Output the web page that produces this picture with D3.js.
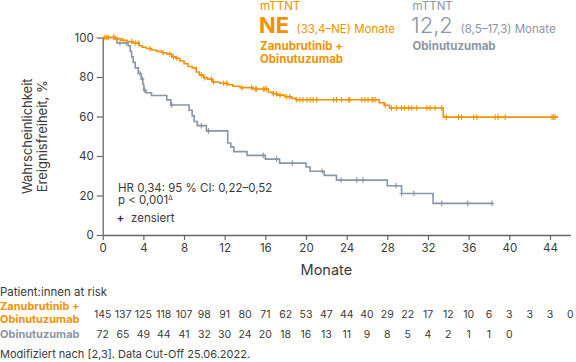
<!DOCTYPE html>
<html>
<head>
<meta charset="utf-8">
<script src="https://cdn.jsdelivr.net/npm/d3@7"></script>
<style>
  body { margin: 0; background: #fff; }
  text { font-family: "Inter", "Open Sans", sans-serif; }
</style>
</head>
<body>
<div id="chart"></div>
<script>
// Kaplan-Meier steps: time (months) and survival (%) after each drop
const zanuTimes = [0, 1.3, 1.8, 2.4, 3.0, 3.6, 3.9, 4.3, 4.8, 5.3, 5.8, 6.3, 6.8, 7.2, 7.6, 8.0, 8.4, 8.8, 9.2, 9.5, 9.9, 10.3, 10.8, 11.5, 12.3, 12.8, 13.5, 14.8, 16.3, 16.7, 17.2, 17.9, 18.6, 19.0, 27.2, 27.7, 28.2, 33.5];
const zanuSurv = [100, 99.3, 98.6, 97.9, 97.2, 95.8, 95.1, 94.4, 93.7, 93.0, 92.3, 91.6, 90.2, 89.5, 88.1, 86.7, 85.3, 84.6, 82.5, 81.1, 79.7, 78.9, 77.5, 76.8, 76.1, 75.3, 74.6, 73.9, 72.3, 71.5, 70.8, 70.0, 69.2, 68.5, 67.0, 65.7, 64.3, 59.7];
const zanuEnd = 44.8;
const zanuCensor = [0.2, 0.4, 0.55, 1.05, 1.2, 2.0, 2.85, 3.2, 3.5, 4.65, 5.95, 6.6, 6.95, 7.3, 9.7, 10.05, 10.7, 10.9, 11.9, 12.2, 13.7, 14.65, 15.0, 15.15, 15.8, 15.95, 16.1, 16.8, 17.1, 17.45, 18.1, 18.4, 19.1, 19.4, 19.7, 20.1, 20.4, 20.7, 21.05, 22.7, 23.0, 23.5, 24.2, 24.3, 25.5, 25.8, 26.1, 26.5, 26.6, 26.8, 27.8, 28.4, 28.9, 29.4, 29.7, 30.1, 30.4, 30.9, 31.9, 32.2, 32.7, 33.35, 33.8, 35.0, 35.3, 36.5, 36.8, 38.6, 38.9, 39.6, 44.2, 44.35, 44.5];

const obiTimes = [0, 1.4, 2.5, 2.7, 2.85, 3.0, 3.2, 3.5, 3.8, 3.95, 4.05, 4.25, 4.8, 6.3, 6.7, 8.5, 8.8, 9.0, 9.3, 10.2, 12.3, 12.6, 12.9, 14.2, 16.0, 17.4, 20.0, 20.4, 21.8, 23.0, 28.0, 29.4, 32.5];
const obiSurv = [100, 97.2, 95.8, 93.0, 90.2, 87.4, 84.6, 81.8, 79.0, 76.2, 73.4, 72.0, 70.6, 68.4, 65.8, 63.2, 60.3, 57.5, 55.4, 52.7, 46.6, 44.6, 42.2, 40.3, 38.4, 36.4, 34.4, 32.3, 30.2, 27.8, 24.9, 21.0, 16.0];
const obiEnd = 38.3;
const obiCensor = [1.7, 2.3, 3.67, 3.9, 4.1, 6.8, 9.7, 10.4, 15.8, 17.1, 18.65, 21.6, 23.45, 25.0, 25.6, 28.85, 29.4, 30.6, 33.35, 35.9, 38.3];

const xTicks = [0, 4, 8, 12, 16, 20, 24, 28, 32, 36, 40, 44];
const yTicks = [0, 20, 40, 60, 80, 100];

// patients at risk, every 2 months
const riskMonths = d3.range(0, 48, 2);
const zanuRisk = [145, 137, 125, 118, 107, 98, 91, 80, 71, 62, 53, 47, 44, 40, 29, 22, 17, 12, 10, 6, 3, 3, 3, 0];
const obiRisk = [72, 65, 49, 44, 41, 32, 30, 24, 20, 18, 16, 13, 11, 9, 8, 5, 4, 2, 1, 1, 0];

const ORANGE = "#f39200";
const GREY = "#8a96a3";
const DARK = "#3a3a3a";

const W = 576, H = 362;
const svg = d3.select("#chart").append("svg").attr("width", W).attr("height", H);

const x = d3.scaleLinear().domain([0, 46]).range([102.7, 570.3]);
const y = d3.scaleLinear().domain([0, 100]).range([235, 37.5]);

// axes
const xAxis = svg.append("g")
  .attr("transform", `translate(0,${y(0)})`)
  .call(d3.axisBottom(x).tickValues(xTicks).tickSize(5).tickPadding(4).tickSizeOuter(0));
const yAxis = svg.append("g")
  .attr("transform", `translate(${x(0)},0)`)
  .call(d3.axisLeft(y).tickValues(yTicks).tickSize(6).tickPadding(3).tickSizeOuter(0));
[xAxis, yAxis].forEach((g) => {
  g.select(".domain").attr("stroke", "#666").attr("stroke-width", 1.3);
  g.selectAll(".tick line").attr("stroke", "#666").attr("stroke-width", 1.2);
  g.selectAll(".tick text").attr("fill", DARK).style("font-size", "11.5px").style("font-family", "Inter");
});

svg.append("text")
  .attr("x", x(22)).attr("y", 275)
  .attr("text-anchor", "middle").attr("fill", DARK)
  .style("font-size", "14.5px")
  .text("Monate");

const yTitle = svg.append("text")
  .attr("transform", `translate(32,${y(50)}) rotate(-90)`)
  .attr("text-anchor", "middle").attr("fill", DARK)
  .style("font-size", "13px");
yTitle.append("tspan").attr("x", 0).attr("dy", 0).text("Wahrscheinlichkeit");
yTitle.append("tspan").attr("x", 0).attr("dy", 14.5).text("Ereignisfreiheit, %");

// curves
const stepLine = d3.line().x((d) => x(d[0])).y((d) => y(d[1])).curve(d3.curveStepAfter);
const survAt = (times, surv, t) => surv[d3.bisectRight(times, t) - 1];

const drawCurve = (times, surv, end, censor, color) => {
  const pts = times.map((t, i) => [t, surv[i]]);
  pts.push([end, surv[surv.length - 1]]);
  svg.append("path")
    .attr("d", stepLine(pts))
    .attr("fill", "none")
    .attr("stroke", color)
    .attr("stroke-width", 1.6);
  svg.append("g").selectAll("path")
    .data(censor)
    .enter()
    .append("path")
    .attr("d", (t) => {
      const cx = x(t), cy = y(survAt(times, surv, t));
      return `M${cx},${cy - 2.8}V${cy + 2.8}M${cx - 2},${cy}H${cx + 2}`;
    })
    .attr("stroke", color)
    .attr("stroke-width", 1.1);
};

drawCurve(obiTimes, obiSurv, obiEnd, obiCensor, GREY);
drawCurve(zanuTimes, zanuSurv, zanuEnd, zanuCensor, ORANGE);

// annotations
const note = svg.append("g").attr("fill", DARK).style("font-size", "11.5px");
note.append("text").attr("x", 118).attr("y", 191.5).text("HR 0,34: 95 % CI: 0,22–0,52");
const p = note.append("text").attr("x", 118).attr("y", 204).text("p < 0,001");
p.append("tspan").attr("dy", -4.5).style("font-size", "6.5px").text("Δ");
note.append("text").attr("x", 116.5).attr("y", 222).style("font-weight", "bold").text("+");
note.append("text").attr("x", 131).attr("y", 222).text("zensiert");

// header
const head = svg.append("g");
head.append("text").attr("x", 260).attr("y", 9.5).attr("fill", ORANGE).style("font-size", "11.5px").text("mTTNT");
head.append("text").attr("x", 259).attr("y", 32.5).attr("fill", ORANGE)
  .style("font-size", "22px").style("font-weight", "bold").text("NE");
head.append("text").attr("x", 296.5).attr("y", 32.5).attr("fill", ORANGE).style("font-size", "11.5px").text("(33,4–NE) Monate");
head.append("text").attr("x", 260).attr("y", 50).attr("fill", ORANGE)
  .style("font-size", "11.5px").style("font-weight", "bold").text("Zanubrutinib +");
head.append("text").attr("x", 260).attr("y", 63).attr("fill", ORANGE)
  .style("font-size", "11.5px").style("font-weight", "bold").text("Obinutuzumab");

head.append("text").attr("x", 412.5).attr("y", 9.5).attr("fill", GREY).style("font-size", "11.5px").text("mTTNT");
head.append("text").attr("x", 411).attr("y", 32.5).attr("fill", GREY).style("font-size", "22px").style("font-weight", 300).text("12,2");
head.append("text").attr("x", 460.5).attr("y", 32.5).attr("fill", GREY).style("font-size", "11.5px").text("(8,5–17,3) Monate");
head.append("text").attr("x", 412.5).attr("y", 50).attr("fill", GREY)
  .style("font-size", "11.5px").style("font-weight", "bold").text("Obinutuzumab");

// at-risk table
svg.append("text").attr("x", 0).attr("y", 296).attr("fill", DARK).style("font-size", "11.5px").text("Patient:innen at risk");
svg.append("text").attr("x", 0).attr("y", 310).attr("fill", ORANGE)
  .style("font-size", "11px").style("font-weight", "bold").text("Zanubrutinib +");
svg.append("text").attr("x", 0).attr("y", 322.5).attr("fill", ORANGE)
  .style("font-size", "11px").style("font-weight", "bold").text("Obinutuzumab");
svg.append("text").attr("x", 0).attr("y", 338).attr("fill", GREY)
  .style("font-size", "11px").style("font-weight", "bold").text("Obinutuzumab");

const riskRow = (values, yPos) => {
  svg.append("g").selectAll("text")
    .data(values)
    .enter()
    .append("text")
    .attr("x", (d, i) => x(riskMonths[i]))
    .attr("y", yPos)
    .attr("text-anchor", "middle")
    .attr("fill", DARK)
    .style("font-size", "10.5px")
    .text((d) => d);
};
riskRow(zanuRisk, 317.5);
riskRow(obiRisk, 338);

svg.append("text").attr("x", 0).attr("y", 358).attr("fill", DARK).style("font-size", "11px")
  .text("Modifiziert nach [2,3]. Data Cut-Off 25.06.2022.");
</script>
</body>
</html>
